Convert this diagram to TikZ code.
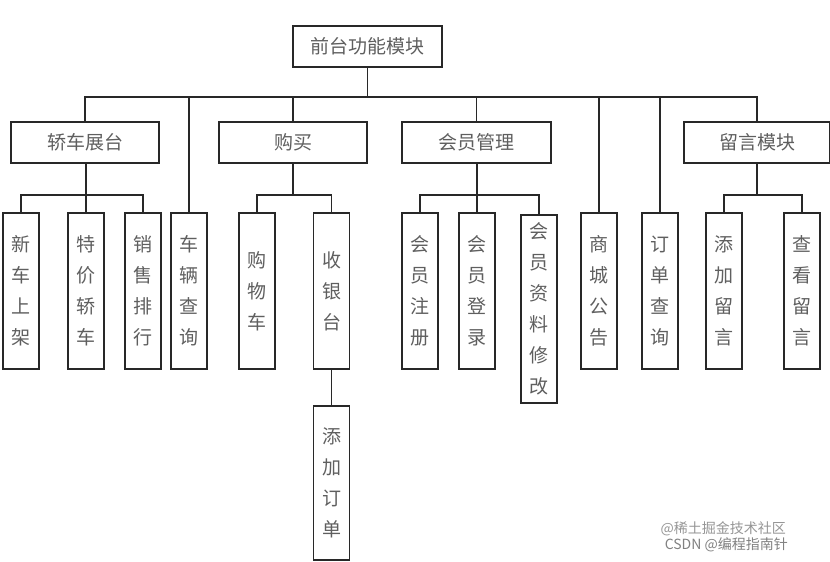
\documentclass[tikz,border=0pt]{standalone}
\usepackage{fontspec}
\usepackage{xcolor}
\newfontfamily\cjk{Noto Sans CJK SC}
\definecolor{boxline}{RGB}{40, 40, 40}
\definecolor{boxtext}{RGB}{95, 95, 95}
\definecolor{marktext}{RGB}{150, 150, 150}
\tikzset{
  modbox/.style={draw=boxline, line width=1.3pt, minimum height=41pt, inner sep=0pt,
    font=\cjk\fontsize{19}{23}\selectfont, text=boxtext},
  leafbox/.style={draw=boxline, line width=1.3pt, minimum width=36pt, minimum height=156pt,
    inner sep=0pt, align=center, font=\cjk\fontsize{19}{31}\selectfont, text=boxtext},
  wire/.style={draw=boxline, line width=1.3pt}
}
\begin{document}
\begin{tikzpicture}[x=1pt, y=-1pt]
\useasboundingbox (0,0) rectangle (830,562);
\fill[white] (0,0) rectangle (830,562);
% levels of the tree
\coordinate (bus) at (0,97);
\coordinate (sub) at (0,195);
% top module
\node[modbox, minimum width=149pt] (root) at (367.5,46.5) {前台功能模块};
% second level
\node[modbox, minimum width=148pt] (showroom) at (85,142.5) {轿车展台};
\node[modbox, minimum width=148pt] (buy) at (293,142.5) {购买};
\node[modbox, minimum width=149pt] (member) at (476.5,142.5) {会员管理};
\node[modbox, minimum width=146pt] (message) at (757,142.5) {留言模块};
% leaves
\node[leafbox] (newcar) at (21,291) {新\\车\\上\\架};
\node[leafbox] (special) at (86,291) {特\\价\\轿\\车};
\node[leafbox] (salesrank) at (143,291) {销\\售\\排\\行};
\node[leafbox] (carquery) at (189,291) {车\\辆\\查\\询};
\node[leafbox] (cart) at (257,291) {购\\物\\车};
\node[leafbox] (cashier) at (331.5,291) {收\\银\\台};
\node[leafbox, minimum height=154pt] (addorder) at (331.5,483) {添\\加\\订\\单};
\node[leafbox] (register) at (420,291) {会\\员\\注\\册};
\node[leafbox] (login) at (477,291) {会\\员\\登\\录};
\node[leafbox, minimum height=188pt] (profile) at (539,309) {会\\员\\资\\料\\修\\改};
\node[leafbox] (notice) at (599,291) {商\\城\\公\\告};
\node[leafbox] (orderquery) at (660,291) {订\\单\\查\\询};
\node[leafbox] (addmsg) at (724,291) {添\\加\\留\\言};
\node[leafbox] (viewmsg) at (802,291) {查\\看\\留\\言};
% main bus
\draw[wire] (root.south) -- (root.south |- bus);
\draw[wire] (showroom.north) |- (bus -| message.north) -- (message.north);
\foreach \n in {buy, member, carquery, notice, orderquery}
  \draw[wire] (\n.north) -- (\n.north |- bus);
% sub buses
\draw[wire] (newcar.north) |- (sub -| salesrank.north) -- (salesrank.north);
\draw[wire] (special.north) -- (special.north |- showroom.south);
\draw[wire] (cart.north) |- (sub -| cashier.north) -- (cashier.north);
\draw[wire] (buy.south) -- (buy.south |- sub);
\draw[wire] (cashier.south) -- (addorder.north);
\draw[wire] (register.north) |- (sub -| profile.north) -- (profile.north);
\draw[wire] (login.north) -- (login.north |- member.south);
\draw[wire] (addmsg.north) |- (sub -| viewmsg.north) -- (viewmsg.north);
\draw[wire] (message.south) -- (message.south |- sub);
% watermark
\node[font=\cjk\fontsize{14}{14}\selectfont, text=marktext, anchor=east, inner sep=0pt] (markA) at (786,529) {@稀土掘金技术社区};
\node[font=\cjk\fontsize{14}{14}\selectfont, text=marktext!120, anchor=east, inner sep=0pt] (markB) at (788,545) {CSDN @编程指南针};
\end{tikzpicture}
\end{document}
